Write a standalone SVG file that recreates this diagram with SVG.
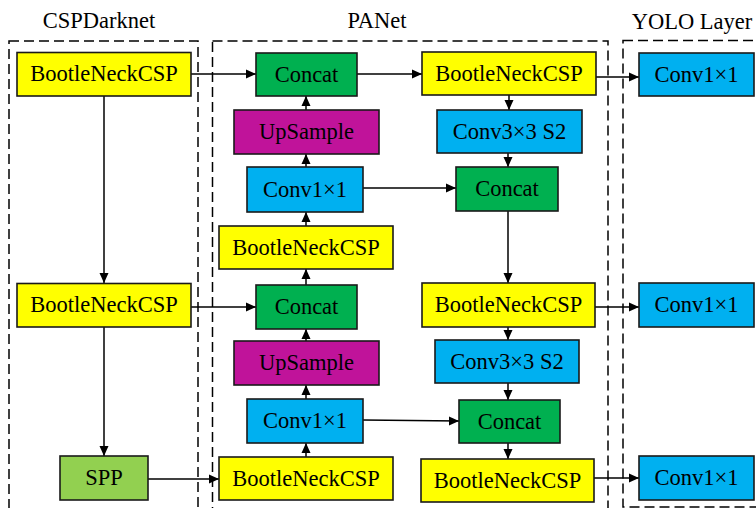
<svg xmlns="http://www.w3.org/2000/svg" width="756" height="508" viewBox="0 0 756 508">
<style>
.t{font-family:"Liberation Serif","Times New Roman",serif;font-size:22.5px;fill:#000;text-anchor:middle}
.n{stroke:#1a1a1a;stroke-width:1.6}
.y{fill:#FFFF00}.g{fill:#00B050}.m{fill:#C0139A}.c{fill:#00B0F0}.l{fill:#92D050}
.d{fill:none;stroke:#000;stroke-width:1.5;stroke-dasharray:10 5}
.e{fill:none;stroke:#000;stroke-width:1.5;marker-end:url(#a)}
</style>
<defs>
<marker id="a" markerUnits="userSpaceOnUse" markerWidth="10" markerHeight="10" viewBox="0 0 10 10" refX="10" refY="5" orient="auto">
<path d="M0,0.5 L10,5 L0,9.5 z" fill="#000"/>
</marker>
</defs>
<g id="frames">
<rect class="d" x="9" y="41" width="189" height="480"/>
<rect class="d" x="212.5" y="41" width="395.5" height="480"/>
<rect class="d" x="623" y="40.5" width="150" height="466.5"/>
<text class="t" x="99" y="28">CSPDarknet</text>
<text class="t" x="377" y="28">PANet</text>
<text class="t" x="692" y="29">YOLO Layer</text>
</g>
<g id="connectors">
<line class="e" x1="191" y1="74" x2="256" y2="74"/>
<line class="e" x1="104" y1="96" x2="104" y2="283"/>
<line class="e" x1="191" y1="307" x2="256" y2="307"/>
<line class="e" x1="104" y1="327" x2="104" y2="456"/>
<line class="e" x1="148" y1="479" x2="219" y2="479"/>
<line class="e" x1="357" y1="74" x2="422" y2="74"/>
<line class="e" x1="306" y1="110" x2="306" y2="96"/>
<line class="e" x1="306" y1="167" x2="306" y2="154"/>
<line class="e" x1="363" y1="188" x2="456" y2="188"/>
<line class="e" x1="306" y1="226" x2="306" y2="212"/>
<line class="e" x1="306" y1="285" x2="306" y2="269"/>
<line class="e" x1="306" y1="341" x2="306" y2="329"/>
<line class="e" x1="306" y1="399" x2="306" y2="385"/>
<line class="e" x1="306" y1="457" x2="306" y2="443"/>
<line class="e" x1="363" y1="420" x2="459" y2="421"/>
<line class="e" x1="509" y1="95" x2="509" y2="110"/>
<line class="e" x1="508" y1="153" x2="508" y2="167"/>
<line class="e" x1="508" y1="211" x2="508" y2="283"/>
<line class="e" x1="508" y1="327" x2="508" y2="340"/>
<line class="e" x1="508" y1="383" x2="508" y2="400"/>
<line class="e" x1="508" y1="443" x2="508" y2="459"/>
<line class="e" x1="596" y1="77" x2="639" y2="77"/>
<line class="e" x1="595" y1="307" x2="639" y2="307"/>
<line class="e" x1="594" y1="478" x2="639" y2="478"/>
</g>
<g id="csp1"><rect class="n y" x="17" y="52.5" width="174" height="43.5"/><text class="t" x="104" y="81">BootleNeckCSP</text></g>
<g id="csp2"><rect class="n y" x="17" y="283.5" width="174" height="43.5"/><text class="t" x="104" y="312">BootleNeckCSP</text></g>
<g id="spp"><rect class="n l" x="60" y="456" width="88" height="44"/><text class="t" x="104" y="484.5">SPP</text></g>
<g id="pan_concat1"><rect class="n g" x="256" y="53" width="101" height="43"/><text class="t" x="306.5" y="81.5">Concat</text></g>
<g id="pan_up1"><rect class="n m" x="234" y="110" width="145" height="44"/><text class="t" x="306.5" y="138.5">UpSample</text></g>
<g id="pan_conv1"><rect class="n c" x="247" y="167" width="116" height="45"/><text class="t" x="305" y="196.5">Conv1×1</text></g>
<g id="pan_csp1"><rect class="n y" x="219" y="226" width="174" height="43"/><text class="t" x="306" y="254.5">BootleNeckCSP</text></g>
<g id="pan_concat2"><rect class="n g" x="256" y="285" width="101" height="44"/><text class="t" x="306.5" y="313.5">Concat</text></g>
<g id="pan_up2"><rect class="n m" x="234" y="341" width="145" height="44"/><text class="t" x="306.5" y="369.5">UpSample</text></g>
<g id="pan_conv2"><rect class="n c" x="247" y="399" width="116" height="44"/><text class="t" x="305" y="427.5">Conv1×1</text></g>
<g id="pan_csp2"><rect class="n y" x="219" y="457" width="174" height="43"/><text class="t" x="306" y="485.5">BootleNeckCSP</text></g>
<g id="pan_csp3"><rect class="n y" x="422" y="52" width="174" height="43"/><text class="t" x="509" y="80.5">BootleNeckCSP</text></g>
<g id="pan_c3s2a"><rect class="n c" x="437" y="110" width="145" height="43"/><text class="t" x="509.5" y="138.5">Conv3×3 S2</text></g>
<g id="pan_concat3"><rect class="n g" x="456" y="167" width="102" height="44"/><text class="t" x="507" y="195.5">Concat</text></g>
<g id="pan_csp4"><rect class="n y" x="422" y="283" width="173" height="44"/><text class="t" x="508.5" y="311.5">BootleNeckCSP</text></g>
<g id="pan_c3s2b"><rect class="n c" x="435" y="340" width="144" height="43"/><text class="t" x="507" y="368.5">Conv3×3 S2</text></g>
<g id="pan_concat4"><rect class="n g" x="459" y="400" width="101" height="43"/><text class="t" x="509.5" y="428.5">Concat</text></g>
<g id="pan_csp5"><rect class="n y" x="421" y="459" width="173" height="43"/><text class="t" x="507.5" y="487.5">BootleNeckCSP</text></g>
<g id="yolo1"><rect class="n c" x="639" y="53" width="115" height="43"/><text class="t" x="696.5" y="81.5">Conv1×1</text></g>
<g id="yolo2"><rect class="n c" x="639" y="283" width="115" height="44"/><text class="t" x="696.5" y="311.5">Conv1×1</text></g>
<g id="yolo3"><rect class="n c" x="639" y="456" width="115" height="44"/><text class="t" x="696.5" y="484.5">Conv1×1</text></g>
</svg>
